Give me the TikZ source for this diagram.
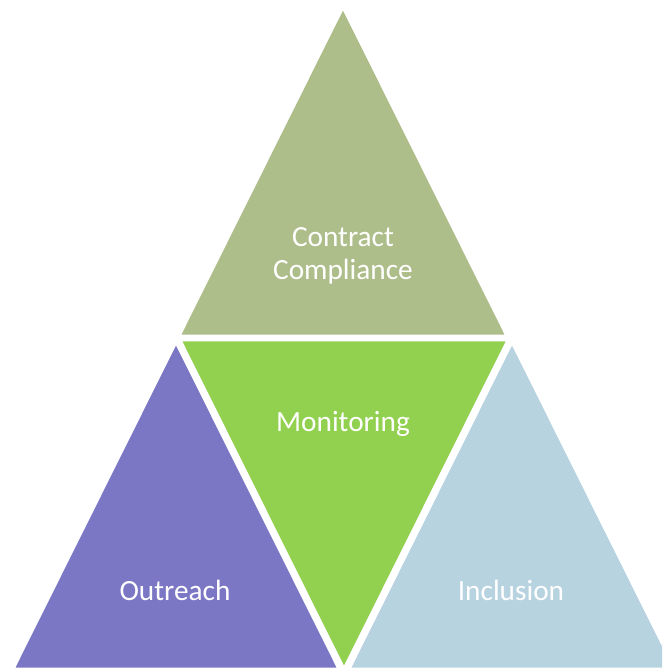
\documentclass[tikz,border=0pt]{standalone}
\usepackage{fontspec}
\setmainfont{Carlito}
\definecolor{compliancegreen}{RGB}{174,190,138}
\definecolor{monitorgreen}{RGB}{146,208,80}
\definecolor{outreachpurple}{RGB}{123,119,197}
\definecolor{inclusionblue}{RGB}{184,211,224}
\tikzset{
  tri/.style={draw=white,line width=2.5pt,line join=miter},
  lbl/.style={text=white,font=\fontsize{25}{28}\selectfont,align=center}
}
\begin{document}
\begin{tikzpicture}[x=0.03cm,y=-0.03cm]
\useasboundingbox (0,0) rectangle (662,669);
\clip (0,0) rectangle (662,669);
% top triangle
\fill[compliancegreen,tri] (343,7) -- (507,336) -- (179,336) -- cycle;
% middle triangle, upside down
\fill[monitorgreen,tri] (180,340) -- (508,340) -- (344,669) -- cycle;
% left and right triangles
\fill[outreachpurple,tri] (176,342) -- (339,669) -- (13,669) -- cycle;
\fill[inclusionblue,tri] (512,342) -- (675,669) -- (349,669) -- cycle;
% labels
\node[lbl] (compliance) at (343,256) {Contract\\Compliance};
\node[lbl] (monitoring) at (343,424) {Monitoring};
\node[lbl] (outreach) at (175,590) {Outreach};
\node[lbl] (inclusion) at (511,590) {Inclusion};
\end{tikzpicture}
\end{document}
